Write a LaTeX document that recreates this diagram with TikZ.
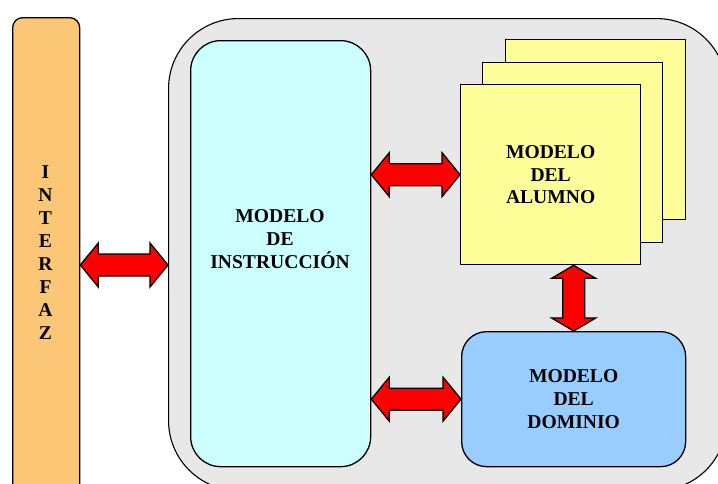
\documentclass[tikz,border=0pt]{standalone}
\usepackage{fontspec}
\setmainfont{Liberation Serif}
\usetikzlibrary{calc}
\definecolor{ifacefill}{HTML}{FBC676}
\definecolor{outerfill}{HTML}{E8E8E8}
\definecolor{instrfill}{HTML}{CCFFFF}
\definecolor{alumfill}{HTML}{FFFF99}
\definecolor{domfill}{HTML}{99CCFF}
\definecolor{arrowred}{HTML}{FF0000}
\tikzset{
  box/.style={draw=black, line width=1.3pt, inner sep=0pt, anchor=north west},
  lbl/.style={font=\fontsize{19.6}{22.7}\selectfont\bfseries, align=center, inner sep=0pt},
  fatarrow/.style={draw=black, fill=arrowred, line width=1.3pt, line join=miter},
}
% horizontal double block arrow between two points at the first point's height
\newcommand\fatH[2]{%
  \path[fatarrow] let \p1=#1, \p2=#2 in
    (\x1,\y1) -- (\x1+18pt,\y1+22pt) -- (\x1+18pt,\y1+11pt) -- (\x2-18pt,\y1+11pt)
    -- (\x2-18pt,\y1+22pt) -- (\x2,\y1) -- (\x2-18pt,\y1-22pt) -- (\x2-18pt,\y1-11pt)
    -- (\x1+18pt,\y1-11pt) -- (\x1+18pt,\y1-22pt) -- cycle;}
% vertical double block arrow from an upper point down to a lower point
\newcommand\fatV[2]{%
  \path[fatarrow] let \p1=#1, \p2=#2 in
    (\x1,\y1) -- (\x1+22pt,\y1-13pt) -- (\x1+11pt,\y1-13pt) -- (\x1+11pt,\y2+13pt)
    -- (\x1+22pt,\y2+13pt) -- (\x1,\y2) -- (\x1-22pt,\y2+13pt) -- (\x1-11pt,\y2+13pt)
    -- (\x1-11pt,\y1-13pt) -- (\x1-22pt,\y1-13pt) -- cycle;}
\begin{document}
\begin{tikzpicture}[x=1pt, y=-1pt]
\useasboundingbox (0,0) rectangle (718,483);
\clip (0,0) rectangle (718,483);

% interface column
\node[box, fill=ifacefill, minimum width=67pt, minimum height=490pt,
      rounded corners=10pt] (iface) at (12,17) {};
\node[lbl, font=\fontsize{19.6}{23}\selectfont\bfseries] (ifacetxt) at (45.5,253)
  {I\\N\\T\\E\\R\\F\\A\\Z};

% system container
\node[box, fill=outerfill, line width=1.1pt, minimum width=558pt, minimum height=472pt,
      rounded corners=70pt] (outer) at (168,18) {};

% instruction model
\node[box, fill=instrfill, minimum width=180pt, minimum height=426pt,
      rounded corners=30pt] (instr) at (190,40) {};
\node[lbl] (instrtxt) at (280,239) {MODELO\\DE\\INSTRUCCIÓN};

% student model (stacked sheets)
\node[box, fill=alumfill, minimum width=180pt, minimum height=180pt] (back) at (505,39) {};
\node[box, fill=alumfill, minimum width=180pt, minimum height=180pt] (mid) at (482,62) {};
\node[box, fill=alumfill, minimum width=180pt, minimum height=180pt] (front) at (460,84) {};
\node[lbl] (alumtxt) at (front.center) {MODELO\\DEL\\ALUMNO};

% domain model
\node[box, fill=domfill, minimum width=224pt, minimum height=135pt,
      rounded corners=25pt] (dom) at (461,331) {};
\node[lbl] (domtxt) at (dom.center) {MODELO\\DEL\\DOMINIO};

% connectors
\coordinate (lk) at (0,265);
\fatH{(iface.east |- lk)}{(outer.west |- lk)}
\fatH{(instr.east |- front.west)}{(front.west)}
\fatH{(instr.east |- dom.west)}{(dom.west)}
\fatV{(dom.north |- front.south)}{(dom.north)}
\end{tikzpicture}
\end{document}
